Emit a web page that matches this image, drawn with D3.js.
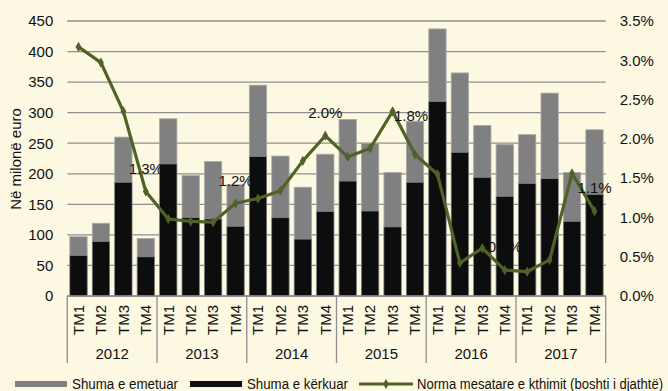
<!DOCTYPE html>
<html>
<head>
<meta charset="utf-8">
<script src="https://cdn.jsdelivr.net/npm/d3@7"></script>
<style>
  html, body { margin: 0; padding: 0; background: #FDF8E1; }
  svg { display: block; font-family: "Liberation Sans", Arial, sans-serif; }
  .legend text { font-family: "Liberation Sans Narrow", "Arial Narrow", "Liberation Sans", Arial, sans-serif; }
</style>
</head>
<body>
<svg id="chart" width="668" height="391"></svg>
<script>
// Quarterly treasury auction data, 2012–2017
const years = ["2012", "2013", "2014", "2015", "2016", "2017"];
const quarters = ["TM1", "TM2", "TM3", "TM4"];
// Shuma e emetuar (million euro)
const issued = [97, 119, 260, 94, 290, 197, 220, 182, 345, 229, 178, 232, 289, 250, 202, 286, 437, 365, 279, 248, 264, 332, 202, 272];
// Shuma e kërkuar (million euro)
const requested = [66, 89, 186, 64, 216, 128, 126, 114, 228, 128, 93, 138, 188, 139, 113, 186, 318, 235, 194, 163, 184, 192, 122, 166];
// Norma mesatare e kthimit (%)
const rate = [3.17, 2.97, 2.35, 1.33, 0.98, 0.95, 0.94, 1.18, 1.24, 1.34, 1.72, 2.04, 1.77, 1.88, 2.35, 1.80, 1.55, 0.42, 0.61, 0.33, 0.31, 0.46, 1.56, 1.08];
const leftTicks = [0, 50, 100, 150, 200, 250, 300, 350, 400, 450];
const rightTicks = [0, 0.5, 1.0, 1.5, 2.0, 2.5, 3.0, 3.5];

const keys = [];
years.forEach(y => quarters.forEach(q => keys.push(y + "-" + q)));

const svg = d3.select("#chart");
const plot = { left: 67.3, right: 605.7, top: 21, bottom: 296 };

const x = d3.scaleBand().domain(keys).range([plot.left, plot.right])
  .paddingInner(0.23).paddingOuter(0.115);
const yL = d3.scaleLinear().domain([0, 450]).range([plot.bottom, plot.top]);
const yR = d3.scaleLinear().domain([0, 3.5]).range([plot.bottom, plot.top]);

const gridColor = "#8f8f8f";
const textColor = "#111";

// horizontal gridlines
svg.append("g").selectAll("line").data(leftTicks).join("line")
  .attr("x1", plot.left).attr("x2", plot.right)
  .attr("y1", d => yL(d)).attr("y2", d => yL(d))
  .attr("stroke", gridColor).attr("stroke-width", 1.3);

// left axis labels
const leftAxis = svg.append("g").attr("transform", `translate(${plot.left},0)`)
  .call(d3.axisLeft(yL).tickValues(leftTicks).tickSize(0).tickPadding(14).tickFormat(d3.format("d")));
leftAxis.select(".domain").remove();
leftAxis.selectAll("text").attr("font-size", 15).attr("fill", textColor)
  .attr("font-family", "Liberation Sans, Arial, sans-serif");

// right axis labels
const rightAxis = svg.append("g").attr("transform", `translate(${plot.right},0)`)
  .call(d3.axisRight(yR).tickValues(rightTicks).tickSize(0).tickPadding(14).tickFormat(d => d.toFixed(1) + "%"));
rightAxis.select(".domain").remove();
rightAxis.selectAll("text").attr("font-size", 15).attr("fill", textColor)
  .attr("font-family", "Liberation Sans, Arial, sans-serif");

// bars: issued behind, requested in front
svg.append("g").selectAll("rect").data(issued).join("rect")
  .attr("x", (d, i) => x(keys[i])).attr("width", x.bandwidth())
  .attr("y", d => yL(d)).attr("height", d => yL(0) - yL(d))
  .attr("fill", "#808080").attr("stroke", "#a8a8a8").attr("stroke-width", 0.8);

svg.append("g").selectAll("rect").data(requested).join("rect")
  .attr("x", (d, i) => x(keys[i])).attr("width", x.bandwidth())
  .attr("y", d => yL(d)).attr("height", d => yL(0) - yL(d))
  .attr("fill", "#0d0d0d").attr("stroke", "#8a8a8a").attr("stroke-width", 0.6);

// bottom axis line and year separators
const axisG = svg.append("g");
axisG.append("line").attr("x1", plot.left).attr("x2", plot.right)
  .attr("y1", plot.bottom).attr("y2", plot.bottom)
  .attr("stroke", gridColor).attr("stroke-width", 1.3);
const boundaries = years.map(y => x(y + "-TM1") + x.bandwidth() / 2 - x.step() / 2);
boundaries.push(plot.right);
axisG.selectAll("line.sep").data(boundaries).join("line").attr("class", "sep")
  .attr("x1", d => d).attr("x2", d => d)
  .attr("y1", plot.bottom).attr("y2", 363)
  .attr("stroke", gridColor).attr("stroke-width", 1.3);

// quarter labels
axisG.selectAll("text.q").data(keys).join("text").attr("class", "q")
  .attr("transform", d => `translate(${x(d) + x.bandwidth() / 2},305) rotate(-90)`)
  .attr("text-anchor", "end").attr("dy", "0.35em")
  .attr("font-size", 15).attr("fill", textColor)
  .text(d => d.split("-")[1]);

// year labels
axisG.selectAll("text.y").data(years).join("text").attr("class", "y")
  .attr("x", (d, i) => (boundaries[i] + boundaries[i + 1]) / 2)
  .attr("y", 359).attr("text-anchor", "middle")
  .attr("font-size", 15).attr("fill", textColor)
  .text(d => d);

// left axis title
svg.append("text")
  .attr("transform", "translate(21,159) rotate(-90)")
  .attr("text-anchor", "middle").attr("font-size", 15).attr("fill", textColor)
  .text("Në milonë euro");

// rate line
const lineColor = "#4F6228";
const line = d3.line().x((d, i) => x(keys[i]) + x.bandwidth() / 2).y(d => yR(d));
svg.append("path").datum(rate).attr("d", line)
  .attr("fill", "none").attr("stroke", lineColor).attr("stroke-width", 3.2)
  .attr("stroke-linejoin", "round");
const diamond = d3.symbol().type(d3.symbolDiamond).size(30);
svg.append("g").selectAll("path").data(rate).join("path")
  .attr("transform", (d, i) => `translate(${x(keys[i]) + x.bandwidth() / 2},${yR(d)})`)
  .attr("d", diamond).attr("fill", lineColor);

// value labels on the fourth quarter of each year
const labelShift = { "2015": [-4, -39] };
svg.append("g").selectAll("text").data(years).join("text")
  .each(function (y) {
    const i = keys.indexOf(y + "-TM4");
    const s = labelShift[y] || [0, -23];
    d3.select(this)
      .attr("x", x(keys[i]) + x.bandwidth() / 2 + s[0])
      .attr("y", yR(rate[i]) + s[1])
      .attr("dy", "0.35em").attr("text-anchor", "middle")
      .attr("font-size", 15).attr("fill", textColor)
      .text(rate[i].toFixed(1) + "%");
  });

// legend
const lg = svg.append("g").attr("class", "legend").attr("font-size", 14).attr("fill", textColor);
lg.append("rect").attr("x", 15).attr("y", 381).attr("width", 52).attr("height", 6).attr("fill", "#808080");
lg.append("text").attr("x", 72).attr("y", 389).attr("textLength", 106)
  .attr("lengthAdjust", "spacingAndGlyphs").text("Shuma e emetuar");
lg.append("rect").attr("x", 190).attr("y", 381).attr("width", 52).attr("height", 6).attr("fill", "#0d0d0d");
lg.append("text").attr("x", 247).attr("y", 389).attr("textLength", 101)
  .attr("lengthAdjust", "spacingAndGlyphs").text("Shuma e kërkuar");
lg.append("line").attr("x1", 359).attr("x2", 413).attr("y1", 384).attr("y2", 384)
  .attr("stroke", lineColor).attr("stroke-width", 3.2);
lg.append("path").attr("transform", "translate(386,384)").attr("d", diamond).attr("fill", lineColor);
lg.append("text").attr("x", 417).attr("y", 389).attr("textLength", 246)
  .attr("lengthAdjust", "spacingAndGlyphs").text("Norma mesatare e kthimit (boshti i djathtë)");
</script>
</body>
</html>
